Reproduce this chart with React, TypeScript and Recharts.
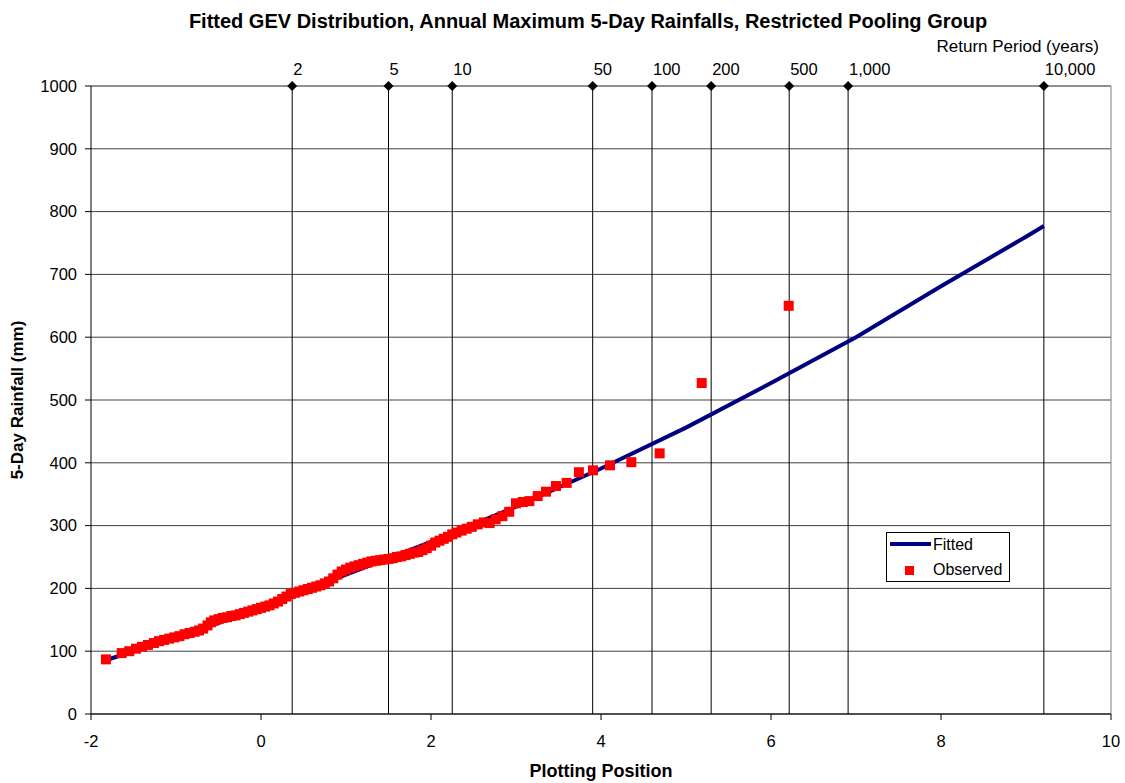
import React from 'react';
import { ComposedChart, XAxis, YAxis, CartesianGrid, Line, Scatter, ReferenceLine } from 'recharts';

const FONT = '"Liberation Sans", Arial, Helvetica, sans-serif';

// Observed annual maxima (plotting position, rainfall mm)
const observedX = [
  -1.824, -1.639, -1.55, -1.47, -1.4, -1.33, -1.26, -1.2, -1.14, -1.08,
  -1.02, -0.96, -0.9, -0.84, -0.78, -0.73, -0.68, -0.63, -0.59, -0.55,
  -0.5, -0.45, -0.4, -0.35, -0.3, -0.25, -0.2, -0.15, -0.1, -0.05,
  0.0, 0.05, 0.1, 0.15, 0.2, 0.25, 0.3, 0.35, 0.4, 0.45,
  0.5, 0.55, 0.6, 0.65, 0.7, 0.75, 0.8, 0.85, 0.9, 0.95,
  1.0, 1.05, 1.1, 1.15, 1.2, 1.25, 1.3, 1.35, 1.4, 1.45,
  1.5, 1.55, 1.6, 1.65, 1.7, 1.75, 1.8, 1.85, 1.9, 1.95,
  2.0, 2.05, 2.1, 2.15, 2.2, 2.25, 2.3, 2.36, 2.42, 2.48,
  2.55, 2.62, 2.69, 2.76, 2.84, 2.92, 3.0, 3.08, 3.157, 3.255,
  3.353, 3.47, 3.596, 3.74, 3.906, 4.106, 4.357, 4.69, 5.185, 6.208,
];
const observedY = [
  87, 97, 100, 104, 107, 110, 113, 116, 118, 120,
  122, 124, 127, 129, 131, 133, 136, 141, 146, 149,
  151, 153, 154, 156, 157, 159, 161, 163, 165, 167,
  169, 171, 173, 176, 179, 183, 187, 191, 193, 195,
  197, 199, 201, 203, 205, 208, 211, 216, 222, 227,
  230, 233, 235, 237, 239, 241, 243, 244, 245, 246,
  247, 248, 250, 251, 253, 255, 257, 258, 261, 264,
  268, 273, 276, 279, 282, 286, 289, 292, 295, 298,
  302, 305, 304, 310, 315, 322, 335.5, 337.6, 339, 347,
  354, 363, 368, 385, 388, 396, 401, 415, 527, 650,
];

// Fitted GEV curve
const fittedX = [-1.82, -1, 0, 1, 2, 3, 4, 5, 6, 7, 8, 9, 9.21];
const fittedY = [86, 121, 169, 222, 274, 330, 391, 456, 527, 600, 681, 760, 777];

// Return period markers
const returnPeriodLabels = ['2', '5', '10', '50', '100', '200', '500', '1,000', '10,000'];
const returnPeriodX = [0.367, 1.5, 2.25, 3.902, 4.6, 5.296, 6.214, 6.907, 9.21];
const returnPeriodTop = 1000;

const xTicks = [-2, 0, 2, 4, 6, 8, 10];
const yTicks = [0, 100, 200, 300, 400, 500, 600, 700, 800, 900, 1000];

const observedData = observedX.map((x, i) => ({ x, y: observedY[i] }));
const fittedData = fittedX.map((x, i) => ({ x, y: fittedY[i] }));
const returnData = returnPeriodX.map((x, i) => ({ x, y: returnPeriodTop, label: returnPeriodLabels[i] }));

const SquareShape = (props: any) => {
  const { cx, cy } = props;
  if (cx == null || cy == null) return null;
  return <rect x={cx - 5} y={cy - 5} width={10} height={10} fill="#FF0000" />;
};

const DiamondShape = (props: any) => {
  const { cx, cy, payload } = props;
  if (cx == null || cy == null) return null;
  return (
    <g>
      <path d={`M${cx},${cy - 5}L${cx + 5},${cy}L${cx},${cy + 5}L${cx - 5},${cy}Z`} fill="#000" />
      <text x={cx + 1} y={cy - 11} fontSize={16.5} fontFamily={FONT} fill="#000" textAnchor="start">
        {payload.label}
      </text>
    </g>
  );
};

export default function App() {
  return (
    <div style={{ position: 'absolute', left: 0, top: 0, width: 1125, height: 783, background: '#fff', fontFamily: FONT }}>
      <ComposedChart
        width={1125}
        height={783}
        margin={{ top: 86, right: 14, bottom: 29, left: 30 }}
      >
        <CartesianGrid vertical={false} stroke="#404040" strokeWidth={1} />
        <XAxis
          type="number"
          dataKey="x"
          domain={[-2, 10]}
          ticks={xTicks}
          height={40}
          tickSize={6}
          tickMargin={15}
          stroke="#000"
          tick={{ fontSize: 16.5, fill: '#000', fontFamily: FONT }}
        />
        <YAxis
          type="number"
          dataKey="y"
          domain={[0, 1000]}
          ticks={yTicks}
          width={61}
          tickSize={6}
          tickMargin={8}
          stroke="#000"
          tick={{ fontSize: 16.5, fill: '#000', fontFamily: FONT }}
        />
        <ReferenceLine x={10} stroke="#808080" strokeWidth={1} />
        <ReferenceLine y={1000} stroke="#808080" strokeWidth={1} />
        {returnPeriodX.map((x) => (
          <ReferenceLine key={x} x={x} stroke="#000" strokeWidth={1} />
        ))}
        <Line
          data={fittedData}
          dataKey="y"
          type="linear"
          stroke="#000080"
          strokeWidth={4}
          dot={false}
          activeDot={false}
          isAnimationActive={false}
        />
        <Scatter data={observedData} dataKey="y" shape={SquareShape} isAnimationActive={false} />
        <Scatter data={returnData} dataKey="y" shape={DiamondShape} isAnimationActive={false} />
      </ComposedChart>

      <div style={{ position: 'absolute', left: 588, top: 10, transform: 'translateX(-50%)', whiteSpace: 'nowrap', fontWeight: 'bold', fontSize: 20, lineHeight: '22px', color: '#000' }}>
        Fitted GEV Distribution, Annual Maximum 5-Day Rainfalls, Restricted Pooling Group
      </div>
      <div style={{ position: 'absolute', right: 26, top: 38, whiteSpace: 'nowrap', fontSize: 17, lineHeight: '18px', color: '#000' }}>
        Return Period (years)
      </div>
      <div style={{ position: 'absolute', left: 601, top: 771, transform: 'translate(-50%, -50%)', whiteSpace: 'nowrap', fontWeight: 'bold', fontSize: 18, lineHeight: '20px', color: '#000' }}>
        Plotting Position
      </div>
      <div style={{ position: 'absolute', left: 18, top: 400, transform: 'translate(-50%, -50%) rotate(-90deg)', whiteSpace: 'nowrap', fontWeight: 'bold', fontSize: 17, lineHeight: '20px', color: '#000' }}>
        5-Day Rainfall (mm)
      </div>

      <div style={{ position: 'absolute', left: 886, top: 532, width: 122, height: 48, border: '1px solid #000', background: '#fff', fontSize: 16, color: '#000' }}>
        <div style={{ position: 'absolute', left: 3, top: 9, width: 41, height: 4, background: '#000080' }} />
        <div style={{ position: 'absolute', left: 46, top: 2, lineHeight: '20px' }}>Fitted</div>
        <div style={{ position: 'absolute', left: 18, top: 33, width: 9, height: 9, background: '#FF0000' }} />
        <div style={{ position: 'absolute', left: 46, top: 27, lineHeight: '20px' }}>Observed</div>
      </div>
    </div>
  );
}
